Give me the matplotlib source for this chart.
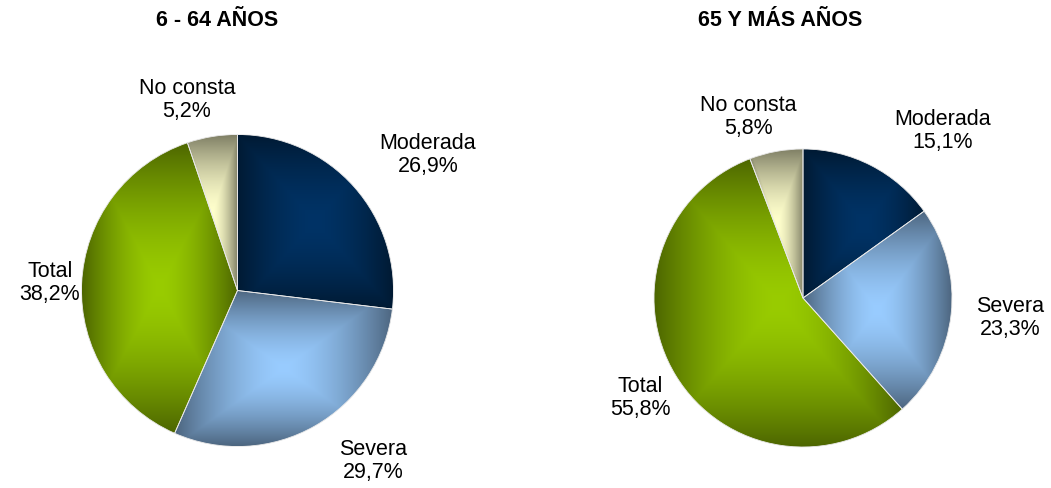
import matplotlib.pyplot as plt
import numpy as np

plt.rcParams['font.family'] = ['Liberation Sans', 'DejaVu Sans']

categorias = ['Moderada', 'Severa', 'Total', 'No consta']
pct_6_64 = [26.9, 29.7, 38.2, 5.2]
pct_65 = [15.1, 23.3, 55.8, 5.8]
titulos = ['6 - 64 AÑOS', '65 Y MÁS AÑOS']

# colour at the centre of each slice and at its edges (Excel style gradient)
claros = ['#003366', '#99ccff', '#99cc00', '#ffffcc']
oscuros = ['#001a33', '#4d6680', '#4d6600', '#808066']


def to_rgb(h):
    h = h.lstrip('#')
    return np.array([int(h[i:i + 2], 16) for i in (0, 2, 4)]) / 255.0


def sombrear(ax, wedge, claro, oscuro):
    ext = wedge.get_path().get_extents()
    x = np.linspace(ext.x0, ext.x1, 200)
    y = np.linspace(ext.y0, ext.y1, 200)
    X, Y = np.meshgrid(x, y)
    cx, cy = (ext.x0 + ext.x1) / 2, (ext.y0 + ext.y1) / 2
    t = np.maximum(np.abs(X - cx) / (ext.width / 2), np.abs(Y - cy) / (ext.height / 2))
    t = (np.clip(t, 0, 1) ** 1.6)[..., None]
    img = to_rgb(claro) * (1 - t) + to_rgb(oscuro) * t
    im = ax.imshow(img, extent=[ext.x0, ext.x1, ext.y0, ext.y1], origin='lower',
                   interpolation='bilinear', zorder=1)
    im.set_clip_path(wedge)


fig = plt.figure(figsize=(10.51, 4.89), dpi=100)
W, H = 1051.0, 489.0

# pie centre (px) and radius (px)
pies = [(237.5, 291.5, 156, pct_6_64), (803, 299, 149, pct_65)]

etiquetas = [
    [(428, 155), (373, 461), (50, 283), (187, 100)],
    [(943, 131), (1010, 318), (640, 398), (748, 117)],
]
pos_titulos = [(217, 20), (780, 20)]

for k, (cx, cy, r, vals) in enumerate(pies):
    ax = fig.add_axes([(cx - r) / W, (H - cy - r) / H, 2 * r / W, 2 * r / H])
    wedges, _ = ax.pie(vals, startangle=90, counterclock=False, radius=1,
                       wedgeprops=dict(edgecolor='#e8e8e8', linewidth=0.6))
    for w, c1, c2 in zip(wedges, claros, oscuros):
        w.set_facecolor('none')
        w.set_zorder(3)
        sombrear(ax, w, c1, c2)
    ax.set_xlim(-1, 1)
    ax.set_ylim(-1, 1)
    ax.set_aspect('equal')
    ax.axis('off')

    for cat, v, (lx, ly) in zip(categorias, vals, etiquetas[k]):
        txt = '%s\n%s%%' % (cat, ('%.1f' % v).replace('.', ','))
        fig.text(lx / W, 1 - ly / H, txt, ha='center', va='center',
                 fontsize=15.5, linespacing=1.15, color='black')

    fig.text(pos_titulos[k][0] / W, 1 - pos_titulos[k][1] / H, titulos[k],
             ha='center', va='center', fontsize=15.5, fontweight='bold')

fig.savefig('out.png', dpi=100)
